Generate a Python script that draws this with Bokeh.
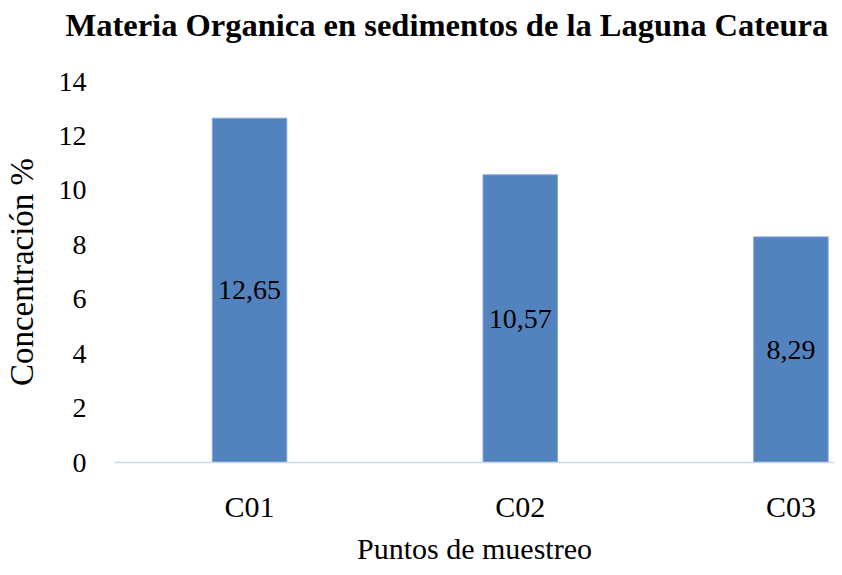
from bokeh.plotting import figure
from bokeh.models import Range1d, FixedTicker, ColumnDataSource, Title
from bokeh.embed import file_html
from bokeh.resources import INLINE
from bokeh.core.properties import value

# ---- data ----
categories = ["C01", "C02", "C03"]
concentracion = [12.65, 10.57, 8.29]
value_labels = ["12,65", "10,57", "8,29"]
y_ticks = [0, 2, 4, 6, 8, 10, 12, 14]

title_text = "Materia Organica en sedimentos de la Laguna Cateura"
x_title = "Puntos de muestreo"
y_title = "Concentración %"

xpos = list(range(1, len(categories) + 1))
mid = [v / 2 for v in concentracion]
src = ColumnDataSource(dict(x=xpos, top=concentracion, mid=mid, lab=value_labels))

FONT = "Liberation Serif"

p = figure(width=834, height=567, output_backend="svg", toolbar_location=None,
           x_range=Range1d(0.501, 3.161), y_range=Range1d(0, 14),
           min_border_left=109, min_border_right=0, min_border_top=81,
           min_border_bottom=100)

p.outline_line_color = None
p.background_fill_color = "white"
p.border_fill_color = "white"
p.xgrid.grid_line_color = None
p.ygrid.grid_line_color = None

# spacer between title and plot area (closest to the frame)
p.add_layout(Title(text=" ", text_font=FONT, text_font_size="10px",
                   standoff=19), "above")
# chart title (outermost)
p.add_layout(Title(text=title_text, text_font=FONT, text_font_size="32.5px",
                   text_font_style="bold", text_color="black",
                   align="left", offset=-49, vertical_align="top",
                   standoff=10), "above")

p.vbar(x="x", top="top", bottom=0, width=0.275, source=src,
       fill_color="#5383bf", line_color="#7fa2d6", line_width=1)

p.text(x="x", y="mid", text="lab", source=src, text_align="center",
       text_baseline="middle", text_font=value(FONT), text_font_size="28px",
       text_color="black")

# y axis
ya = p.yaxis[0]
ya.ticker = FixedTicker(ticks=y_ticks)
ya.axis_line_color = None
ya.major_tick_line_color = None
ya.minor_tick_line_color = None
ya.major_label_text_font = FONT
ya.major_label_text_font_size = "28px"
ya.major_label_text_color = "black"
ya.major_label_standoff = 22
ya.axis_label = y_title
ya.axis_label_text_font = FONT
ya.axis_label_text_font_size = "33px"
ya.axis_label_text_font_style = "normal"
ya.axis_label_text_color = "black"
ya.axis_label_standoff = 16

# x axis
xa = p.xaxis[0]
xa.ticker = FixedTicker(ticks=xpos)
xa.major_label_overrides = {x: c for x, c in zip(xpos, categories)}
xa.axis_line_color = "#c6d7ee"
xa.axis_line_width = 1.5
xa.major_tick_line_color = None
xa.minor_tick_line_color = None
xa.major_label_text_font = FONT
xa.major_label_text_font_size = "30px"
xa.major_label_text_color = "black"
xa.major_label_standoff = 21
xa.axis_label = x_title
xa.axis_label_text_font = FONT
xa.axis_label_text_font_size = "30px"
xa.axis_label_text_font_style = "normal"
xa.axis_label_text_color = "black"
xa.axis_label_standoff = 6

open("out.html", "w").write(file_html(p, INLINE))
